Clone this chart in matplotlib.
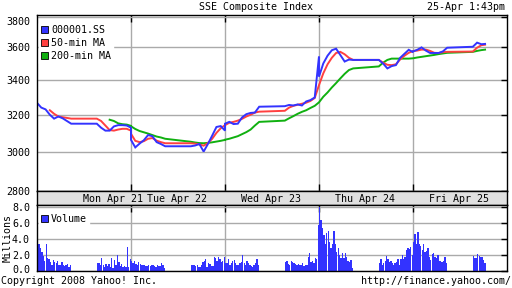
import numpy as np
import matplotlib
matplotlib.use("Agg")
import matplotlib.pyplot as plt
import matplotlib.transforms as mtransforms
from matplotlib.patches import Patch
from matplotlib.ticker import NullLocator

nan = np.nan

days = ["Mon Apr 21", "Tue Apr 22", "Wed Apr 23", "Thu Apr 24", "Fri Apr 25"]
day_label_min = [267, 490, 822, 1152, 1482]   # where each date label sits on the axis

# 15 minute samples, 9:30-11:30 and 13:00-15:00 (Friday stops at 1:43pm)
price_am = [
    [3267, 3240, 3230, 3200, 3178, 3190, 3180, 3165, 3150],
    [3062, 3022, 3042, 3060, 3088, 3082, 3050, 3040, 3028],
    [3150, 3160, 3148, 3150, 3185, 3203, 3210, 3212, 3245],
    [3420, 3500, 3548, 3582, 3592, 3552, 3512, 3524, 3522],
    [3575, 3585, 3600, 3580, 3565, 3565, 3565, 3575, 3598],
]
price_pm = [
    [3150, 3128, 3112, 3112, 3135, 3142, 3142, 3140, 3128],
    [3028, 3032, 3040, 3000, 3040, 3085, 3132, 3137, 3112],
    [3248, 3255, 3252, 3258, 3252, 3275, 3283, 3298, 3544],
    [3522, 3500, 3470, 3484, 3490, 3535, 3560, 3585, 3570],
    [3604, 3630, 3620, 3622],
]
ma50_am = [
    [nan, nan, nan, 3225, 3205, 3190, 3186, 3182, 3178],
    [3095, 3057, 3050, 3055, 3068, 3072, 3058, 3050, 3044],
    [3142, 3155, 3160, 3167, 3177, 3190, 3200, 3212, 3217],
    [3370, 3440, 3495, 3535, 3565, 3572, 3557, 3535, 3522],
    [3577, 3580, 3586, 3586, 3578, 3566, 3565, 3570, 3572],
]
ma50_pm = [
    [3178, 3165, 3140, 3115, 3112, 3118, 3122, 3122, 3112],
    [3044, 3042, 3038, 3031, 3045, 3068, 3100, 3125, 3142],
    [3222, 3240, 3250, 3256, 3262, 3268, 3278, 3295, 3370],
    [3522, 3505, 3492, 3490, 3495, 3525, 3548, 3566, 3577],
    [3574, 3598, 3614, 3617],
]
ma200_am = [
    [nan, nan, nan, nan, nan, nan, nan, nan, nan],
    [3136, 3121, 3110, 3103, 3096, 3088, 3080, 3075, 3068],
    [3063, 3068, 3075, 3082, 3093, 3104, 3118, 3140, 3160],
    [3270, 3302, 3327, 3356, 3382, 3410, 3437, 3460, 3470],
    [3532, 3537, 3541, 3545, 3549, 3553, 3558, 3562, 3566],
]
ma200_pm = [
    [nan, nan, nan, 3172, 3165, 3152, 3147, 3145, 3138],
    [3052, 3048, 3045, 3044, 3046, 3049, 3053, 3057, 3062],
    [3167, 3180, 3192, 3205, 3216, 3225, 3238, 3250, 3270],
    [3482, 3505, 3522, 3530, 3530, 3530, 3530, 3530, 3532],
    [3572, 3578, 3583, 3586],
]
fri_pm_min = [0, 15, 30, 43]

# 5 minute volume bars, millions
vol_am = [
    [5.6, 3.4, 2.9, 2.4, 1.9, 1.2, 3.3, 1.6, 1.5, 1.1, 0.8, 1.4, 1.1, 1.0, 1.3, 0.8, 0.7, 1.1, 0.8, 0.6, 0.7, 0.9, 0.5, 0.7],
    [1.2, 1.0, 1.3, 0.9, 0.8, 1.1, 0.9, 0.8, 0.7, 0.8, 0.6, 0.6, 0.7, 0.6, 0.7, 0.7, 0.6, 0.5, 0.7, 0.6, 0.6, 1.0, 0.7, 0.4],
    [1.05, 0.95, 1.5, 0.8, 1.05, 1.25, 1.35, 0.95, 0.8, 0.75, 0.95, 1.15, 2.0, 0.95, 0.75, 1.25, 0.95, 0.75, 0.65, 0.5, 0.75, 0.95, 1.5, 0.75],
    [8.0, 6.3, 5.3, 4.5, 3.4, 4.7, 5.0, 3.6, 2.8, 3.4, 5.0, 3.4, 2.4, 2.9, 2.0, 1.6, 2.2, 1.6, 2.2, 1.8, 1.2, 1.1, 1.4, 0.4],
    [3.6, 4.6, 3.3, 4.9, 3.3, 3.1, 2.6, 3.4, 2.4, 2.5, 2.9, 1.8, 1.4, 2.1, 2.2, 1.8, 1.6, 2.0, 1.2, 1.2, 1.1, 1.3, 1.8, 1.0],
]
vol_pm = [
    [1.0, 1.0, 0.8, 1.6, 0.8, 0.5, 0.9, 0.6, 0.9, 0.5, 1.6, 0.4, 1.4, 0.7, 2.0, 1.1, 0.6, 0.9, 0.5, 0.6, 0.5, 3.0, 0.5, 1.5],
    [0.75, 0.75, 0.7, 0.6, 0.75, 0.5, 0.45, 0.75, 1.15, 1.2, 1.5, 0.55, 0.95, 0.9, 0.6, 0.65, 1.8, 1.6, 1.25, 1.8, 1.5, 1.1, 1.25, 1.8],
    [1.1, 1.25, 0.9, 0.75, 1.25, 1.1, 1.0, 0.9, 0.8, 0.9, 0.8, 0.75, 0.95, 0.65, 0.75, 0.7, 1.7, 2.2, 1.15, 1.3, 1.05, 1.65, 1.5, 5.7],
    [1.05, 1.5, 0.75, 1.05, 1.25, 1.9, 1.55, 1.1, 1.25, 1.05, 0.8, 0.95, 1.15, 1.5, 0.8, 1.55, 2.0, 1.5, 1.8, 2.6, 2.8, 2.7, 3.0, 2.0],
    [1.9, 1.65, 1.6, 2.1, 1.9, 1.7, 1.8, 1.4, 1.0],
]

DAY = 330      # 9:30-15:00 on the axis, lunch included
PM_START = 210 # 13:00 is 210 minutes after 9:30
BLUE, RED, GREEN = "#3333ff", "#ff4040", "#10b010"
FONT = "DejaVu Sans Mono"
FS = 7.2
plt.rcParams["font.family"] = FONT
plt.rcParams["font.size"] = FS


def series(am, pm):
    xs, ys = [], []
    for d in range(len(days)):
        xs += [d * DAY + 15 * i for i in range(len(am[d]))]
        ys += am[d]
        if len(pm[d]) == 9:
            pm_t = [15 * i for i in range(9)]
        else:
            pm_t = fri_pm_min
        xs += [d * DAY + PM_START + t for t in pm_t]
        ys += pm[d]
    return np.array(xs, float), np.array(ys, float)


def bars(am, pm):
    xs, hs = [], []
    for d in range(len(days)):
        xs += [d * DAY + 5 * i for i in range(len(am[d]))]
        hs += am[d]
        xs += [d * DAY + PM_START + 5 * i for i in range(len(pm[d]))]
        hs += pm[d]
    return np.array(xs, float), np.array(hs, float)


W, H = 512, 288
def box(x0, y0, x1, y1):
    return [x0 / W, 1 - y1 / H, (x1 - x0) / W, (y1 - y0) / H]


def nudge(label, dy_px):
    # shift one tick label up/down by a few pixels
    off = mtransforms.ScaledTranslation(0, dy_px / 100, fig.dpi_scale_trans)
    label.set_transform(label.get_transform() + off)


fig = plt.figure(figsize=(W / 100, H / 100), dpi=100)
ax = fig.add_axes(box(37, 15, 507, 191))
band = fig.add_axes(box(37, 191, 507, 205))
axv = fig.add_axes(box(37, 205, 507, 271))

grid_kw = dict(color="#aaaaaa", lw=1.0)
day_edges = [DAY * d for d in range(1, len(days))]

# price panel
for am, pm, col in [(ma200_am, ma200_pm, GREEN), (ma50_am, ma50_pm, RED),
                    (price_am, price_pm, BLUE)]:
    x, y = series(am, pm)
    ax.plot(x, y, color=col, lw=1.4, solid_joinstyle="miter")

ax.set_yscale("log")
ax.set_ylim(2800, 3810)
ax.set_xlim(0, DAY * len(days))
yt = [2800, 3000, 3200, 3400, 3600, 3800]
ax.set_yticks(yt)
ax.set_yticklabels([str(v) for v in yt])
ax.yaxis.set_minor_locator(NullLocator())
ax.set_xticks(day_edges)
ax.set_xticklabels([])
ax.tick_params(axis="y", left=False, right=True, labelleft=True, direction="in",
               length=4, width=1, pad=5, labelsize=FS)
ax.tick_params(axis="x", top=True, bottom=True, direction="in", length=5, width=1)
ax.grid(True, **grid_kw)
ax.set_axisbelow(True)

handles = [Patch(facecolor=BLUE, edgecolor="black", lw=0.6),
           Patch(facecolor=RED, edgecolor="black", lw=0.6),
           Patch(facecolor=GREEN, edgecolor="black", lw=0.6)]
ax.legend(handles, ["000001.SS", "50-min MA", "200-min MA"],
          loc="upper left", bbox_to_anchor=(0.0, 0.965), fontsize=FS,
          frameon=True, framealpha=1, edgecolor="white", fancybox=False,
          handlelength=0.7, handleheight=0.7, handletextpad=0.3,
          labelspacing=0.3, borderpad=0.2, borderaxespad=0.2)

# date band
band.set_facecolor("#e0e0e0")
band.set_xlim(0, DAY * len(days))
band.set_ylim(0, 1)
band.set_xticks([])
band.set_yticks([])
for lab, xm in zip(days, day_label_min):
    band.text(xm, 0.45, lab, ha="center", va="center", fontsize=FS)

# volume panel
vx, vh = bars(vol_am, vol_pm)
axv.bar(vx, vh, width=4.7, align="edge", color=BLUE, linewidth=0)
axv.set_xlim(0, DAY * len(days))
axv.set_ylim(0, 8.2)
vt = [0, 2, 4, 6, 8]
axv.set_yticks(vt)
axv.set_yticklabels([f"{v:.1f}" for v in vt])
axv.set_xticks(day_edges)
axv.set_xticklabels([])
axv.tick_params(axis="y", left=False, right=True, labelleft=True, direction="in",
                length=4, width=1, pad=5, labelsize=FS)
axv.tick_params(axis="x", top=True, bottom=False, direction="in", length=5, width=1)
axv.grid(True, **grid_kw)
axv.set_axisbelow(True)
axv.set_ylabel("Millions", fontsize=FS, va="center")
axv.yaxis.set_label_coords(-0.062, 0.5)
axv.legend([Patch(facecolor=BLUE, edgecolor="black", lw=0.6)], ["Volume"],
           loc="upper left", bbox_to_anchor=(0.0, 0.93), fontsize=FS,
           frameon=True, framealpha=1, edgecolor="white", fancybox=False,
           handlelength=0.7, handleheight=0.7, handletextpad=0.3,
           borderpad=0.2, borderaxespad=0.2)

for a in (ax, band, axv):
    for s in a.spines.values():
        s.set_color("black")
        s.set_linewidth(1)

# end labels sit a little inside the panels, as in the reference
nudge(ax.get_yticklabels()[-1], -4)
nudge(axv.get_yticklabels()[0], 2)

fig.text(0.5, 1 - 7 / H, "SSE Composite Index", ha="center", va="center", fontsize=FS)
fig.text(505 / W, 1 - 7 / H, "25-Apr 1:43pm", ha="right", va="center", fontsize=FS)
fig.text(1 / W, 1 - 281 / H, "Copyright 2008 Yahoo! Inc.", ha="left", va="center", fontsize=FS)
fig.text(511 / W, 1 - 281 / H, "http://finance.yahoo.com/", ha="right", va="center", fontsize=FS)

fig.savefig("out.png", dpi=100, facecolor="white")
